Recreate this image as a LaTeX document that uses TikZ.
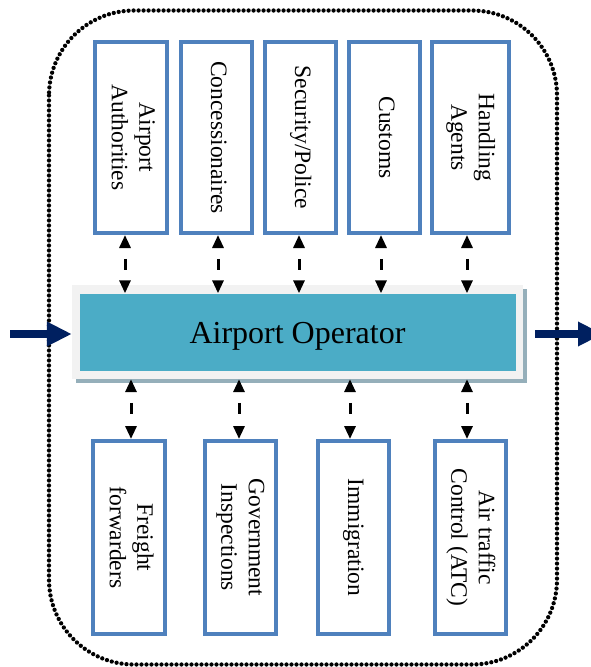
\documentclass[tikz,border=0pt]{standalone}
\usepackage{fontspec}
\setmainfont{Liberation Serif}
\usetikzlibrary{arrows.meta}
\definecolor{boxblue}{HTML}{4F81BD}
\definecolor{tealc}{HTML}{4BACC6}
\definecolor{framec}{HTML}{F2F2F2}
\definecolor{shadowc}{HTML}{95AFBA}
\definecolor{navy}{HTML}{002060}
\newcommand{\vlab}[1]{\rotatebox{-90}{\fontsize{23.5}{27.5}\selectfont\begin{tabular}{@{}c@{}}#1\end{tabular}}}
\tikzset{
  party/.style={draw=boxblue, line width=4pt, fill=white, inner sep=0pt, minimum width=71pt},
  topbox/.style={party, minimum height=191pt},
  botbox/.style={party, minimum height=193pt},
  darr/.style={line width=3pt, dash pattern=on 11pt off 23pt, dash phase=22.5pt,
    {Triangle[length=13pt,width=11pt]}-{Triangle[length=13pt,width=11pt]}},
  flowarr/.style={navy, line width=8pt, -{Triangle[length=25pt,width=23pt]}},
  border/.style={line width=4.3pt, dash pattern=on 0pt off 5pt, line cap=round, rounded corners=85pt}
}
\begin{document}
\begin{tikzpicture}[x=1pt, y=-1pt]
\useasboundingbox (0,0) rectangle (590,667);
\draw[border] (49,10.5) rectangle (557,664.5);

% airport operator
\node[fill=shadowc, minimum width=451pt, minimum height=94pt, inner sep=0pt] (sh) at (301,336) {};
\node[fill=framec, minimum width=451pt, minimum height=94pt, inner sep=0pt] (op) at (297.5,332) {};
\node[fill=tealc, minimum width=436pt, minimum height=77pt, inner sep=0pt] (opt) at (op.center) {};
\node[font=\fontsize{32}{38}\selectfont, inner sep=0pt] (optxt) at ([yshift=-4pt]opt.center) {Airport Operator};

% top boxes
\node[topbox, minimum width=72pt] (aa) at (131,137.5) {\vlab{Airport\\Authorities}};
\node[topbox] (con) at (216.5,137.5) {\vlab{Concessionaires}};
\node[topbox] (sec) at (300.5,137.5) {\vlab{Security/Police}};
\node[topbox] (cus) at (384.5,137.5) {\vlab{Customs}};
\node[topbox, minimum width=77pt] (ha) at (470.5,137.5) {\vlab{Handling\\Agents}};

% bottom boxes
\node[botbox, minimum width=72pt] (ff) at (129,537.5) {\vlab{Freight\\forwarders}};
\node[botbox] (gi) at (240.5,537.5) {\vlab{Government\\Inspections}};
\node[botbox] (im) at (353.5,537.5) {\vlab{Immigration}};
\node[botbox] (atc) at (470.5,537.5) {\vlab{Air traffic\\Control (ATC)}};

% dashed links top
\draw[darr] ([xshift=-6pt]aa.south) -- ([xshift=-6pt]aa.south |- opt.north);
\draw[darr] ([xshift=1.5pt]con.south) -- ([xshift=1.5pt]con.south |- opt.north);
\draw[darr] ([xshift=-1.5pt]sec.south) -- ([xshift=-1.5pt]sec.south |- opt.north);
\draw[darr] ([xshift=-3.5pt]cus.south) -- ([xshift=-3.5pt]cus.south |- opt.north);
\draw[darr] ([xshift=-3.5pt]ha.south) -- ([xshift=-3.5pt]ha.south |- opt.north);

% dashed links bottom
\draw[darr] ([xshift=2pt]ff.north |- op.south) -- ([xshift=2pt]ff.north);
\draw[darr] ([xshift=-1.5pt]gi.north |- op.south) -- ([xshift=-1.5pt]gi.north);
\draw[darr] ([xshift=-3.5pt]im.north |- op.south) -- ([xshift=-3.5pt]im.north);
\draw[darr] ([xshift=-3.5pt]atc.north |- op.south) -- ([xshift=-3.5pt]atc.north);

% flow arrows
\coordinate (in) at (10,334);
\coordinate (out) at (603,334);
\draw[flowarr] (in) -- (in -| op.west);
\draw[flowarr] ([xshift=12pt]op.east |- out) -- (out);
\end{tikzpicture}
\end{document}
